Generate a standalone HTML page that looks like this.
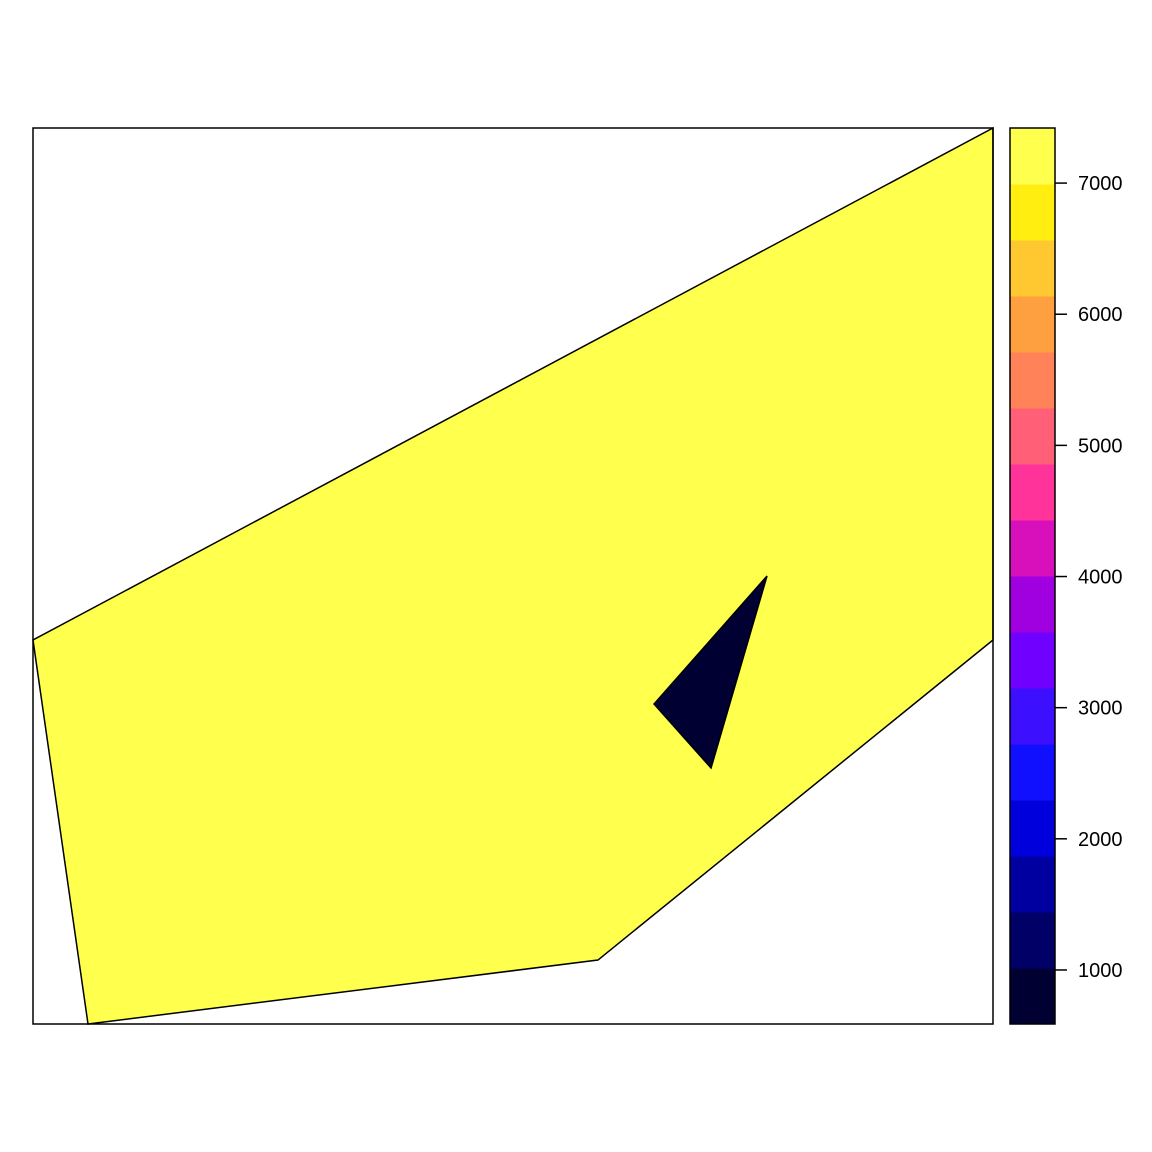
<!DOCTYPE html>
<html><head><meta charset="utf-8"><style>
html,body{margin:0;padding:0;background:#fff;}
svg{display:block;font-family:"Liberation Sans",Arial,sans-serif;}
</style></head><body>
<svg id="chart" width="1152" height="1152" viewBox="0 0 1152 1152"></svg>
<script>
const bandColors=["#000033","#000066","#0000A0","#0000DD","#1010FF","#3C10FF","#7000FF","#A000E0","#D810BC","#FF3399","#FF6078","#FF8258","#FFA040","#FFC830","#FFEE10","#FFFF4D"];
const bandMin=588, bandStep=427;
const tickValues=[1000,2000,3000,4000,5000,6000,7000];
const tickLabels=["1000","2000","3000","4000","5000","6000","7000"];
const outerX=[0,0.0573,0.5885,1,1];
const outerY=[0.4286,0,0.0714,0.4286,1];
const holeX=[0.6469,0.7646,0.7063];
const holeY=[0.3571,0.5,0.2857];
const regionLevel=[7200,600];

const NS="http://www.w3.org/2000/svg";
const svg=document.getElementById('chart');
const L=33,R=993,T=128,B=1024;
const sx=v=>L+v*(R-L), sy=v=>B-v*(B-T);
const cbL=1010,cbR=1055;
const vmax=bandMin+bandStep*bandColors.length;
const cy=v=>B-(v-bandMin)/(vmax-bandMin)*(B-T);
function colorFor(v){let i=Math.floor((v-bandMin)/bandStep);i=Math.max(0,Math.min(bandColors.length-1,i));return bandColors[i];}
function mk(tag,attrs){const e=document.createElementNS(NS,tag);for(const k in attrs)e.setAttribute(k,attrs[k]);svg.appendChild(e);return e;}

const outer=mk('polygon',{points:outerX.map((x,i)=>sx(x)+','+sy(outerY[i])).join(' '),fill:colorFor(regionLevel[0]),stroke:'#000','stroke-width':1.5});


const hole=mk('polygon',{points:holeX.map((x,i)=>sx(x)+','+sy(holeY[i])).join(' '),fill:colorFor(regionLevel[1]),stroke:'#000','stroke-width':1.5});


const frame=mk('rect',{x:L,y:T,width:R-L,height:B-T,fill:'none',stroke:'#000','stroke-width':1.5});



bandColors.forEach((c,i)=>{
  const v0=bandMin+i*bandStep,v1=v0+bandStep;
  const r=mk('rect',{x:cbL,y:cy(v1),width:cbR-cbL,height:cy(v0)-cy(v1)+0.5,fill:c});
  
  
});
const cbf=mk('rect',{x:cbL,y:T,width:cbR-cbL,height:B-T,fill:'none',stroke:'#000','stroke-width':1.5});


tickValues.forEach((v,i)=>{
  const y=cy(v);
  const t=mk('line',{x1:cbR,x2:cbR+12,y1:y,y2:y,stroke:'#000','stroke-width':1.5});
  
  
  const tx=mk('text',{x:1078,y:y+7,'font-size':20,fill:'#000'});
  tx.textContent=tickLabels[i];
  
  
});
</script>
</body></html>
